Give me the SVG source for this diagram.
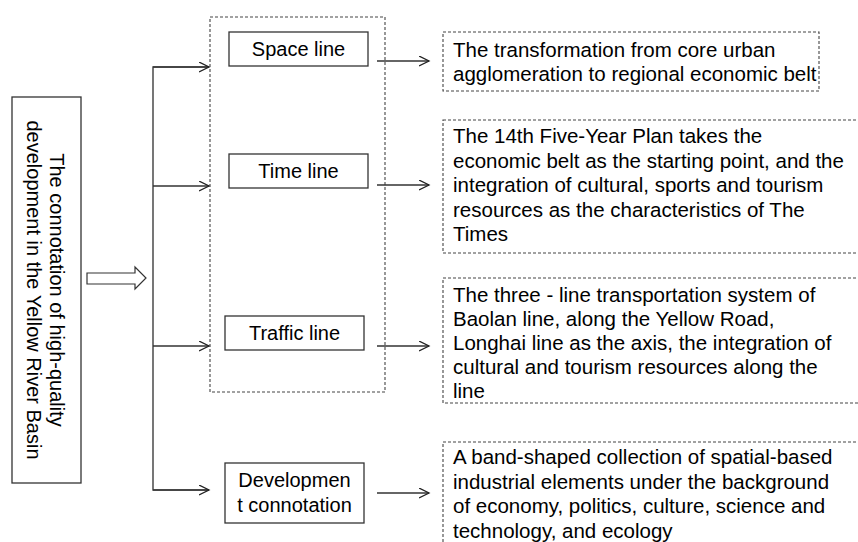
<svg xmlns="http://www.w3.org/2000/svg" width="858" height="542" viewBox="0 0 858 542">
<defs>
<marker id="ah" markerWidth="12" markerHeight="12" refX="10" refY="5" orient="auto" markerUnits="userSpaceOnUse">
<path d="M0,0 L10,5 L0,10" fill="none" stroke="#222" stroke-width="1.3"/>
</marker>
<style>
.t{font-family:"Liberation Sans",Arial,sans-serif;fill:#000;}
.big{font-size:20.5px;}
.mid{font-size:20px;}
.solid{fill:#fff;stroke:#333;stroke-width:1.3;}
.dash{fill:#fff;stroke:#444;stroke-width:1.1;stroke-dasharray:3 2;}
.con{fill:none;stroke:#333;stroke-width:1.3;}
.br{fill:none;stroke:#555;stroke-width:1.6;}
</style>
</defs>
<rect width="858" height="542" fill="#fff"/>

<g id="frame">
<rect class="dash" x="210" y="17" width="175" height="375"/>
</g>

<g id="connectors">
<polyline class="br" points="209,67 153,67 153,490 209,490"/>
<line class="con" x1="153" y1="67" x2="209" y2="67" marker-end="url(#ah)"/>
<line class="con" x1="153" y1="186" x2="209" y2="186" marker-end="url(#ah)"/>
<line class="con" x1="153" y1="346" x2="209" y2="346" marker-end="url(#ah)"/>
<line class="con" x1="153" y1="490" x2="209" y2="490" marker-end="url(#ah)"/>
<line class="con" x1="377" y1="61" x2="429" y2="61" marker-end="url(#ah)"/>
<line class="con" x1="377" y1="185" x2="429" y2="185" marker-end="url(#ah)"/>
<line class="con" x1="377" y1="346" x2="429" y2="346" marker-end="url(#ah)"/>
<line class="con" x1="377" y1="493" x2="429" y2="493" marker-end="url(#ah)"/>
<polygon points="87,273 135,273 135,267 146,278 135,289 135,284 87,284" fill="#fff" stroke="#333" stroke-width="1.2"/>
</g>

<g id="root">
<rect class="solid" x="12" y="97" width="69" height="386"/>
<text class="t mid" transform="translate(50,290) rotate(90)" text-anchor="middle"><tspan x="0" y="0">The connotation of high-quality</tspan><tspan x="0" y="23">development in the Yellow River Basin</tspan></text>
</g>

<g id="space">
<rect class="solid" x="229" y="32" width="139" height="34"/>
<text class="t mid" x="298.5" y="56" text-anchor="middle">Space line</text>
</g>
<g id="time">
<rect class="solid" x="229" y="154" width="139" height="34"/>
<text class="t mid" x="298.5" y="178" text-anchor="middle">Time line</text>
</g>
<g id="traffic">
<rect class="solid" x="225" y="316" width="139" height="34"/>
<text class="t mid" x="294.5" y="340" text-anchor="middle">Traffic line</text>
</g>
<g id="development">
<rect class="solid" x="225" y="463" width="139" height="60"/>
<text class="t mid" x="294.5" text-anchor="middle"><tspan x="294.5" y="487">Developmen</tspan><tspan x="294.5" y="512">t connotation</tspan></text>
</g>

<g id="desc-space">
<rect class="dash" x="443" y="32" width="376" height="59"/>
<text class="t big"><tspan x="453" y="57">The transformation from core urban</tspan><tspan x="453" y="81">agglomeration to regional economic belt</tspan></text>
</g>
<g id="desc-time">
<rect class="dash" x="443" y="120" width="420" height="133"/>
<text class="t big"><tspan x="453" y="143">The 14th Five-Year Plan takes the</tspan><tspan x="453" y="167.5">economic belt as the starting point, and the</tspan><tspan x="453" y="192">integration of cultural, sports and tourism</tspan><tspan x="453" y="216.5">resources as the characteristics of The</tspan><tspan x="453" y="241">Times</tspan></text>
</g>
<g id="desc-traffic">
<rect class="dash" x="443" y="278" width="420" height="125"/>
<text class="t big"><tspan x="453" y="302">The three - line transportation system of</tspan><tspan x="453" y="326">Baolan line, along the Yellow Road,</tspan><tspan x="453" y="350">Longhai line as the axis, the integration of</tspan><tspan x="453" y="374">cultural and tourism resources along the</tspan><tspan x="453" y="398">line</tspan></text>
</g>
<g id="desc-development">
<rect class="dash" x="443" y="442" width="420" height="120"/>
<text class="t big"><tspan x="453" y="464">A band-shaped collection of spatial-based</tspan><tspan x="453" y="488.5">industrial elements under the background</tspan><tspan x="453" y="513">of economy, politics, culture, science and</tspan><tspan x="453" y="537.5">technology, and ecology</tspan></text>
</g>
</svg>
